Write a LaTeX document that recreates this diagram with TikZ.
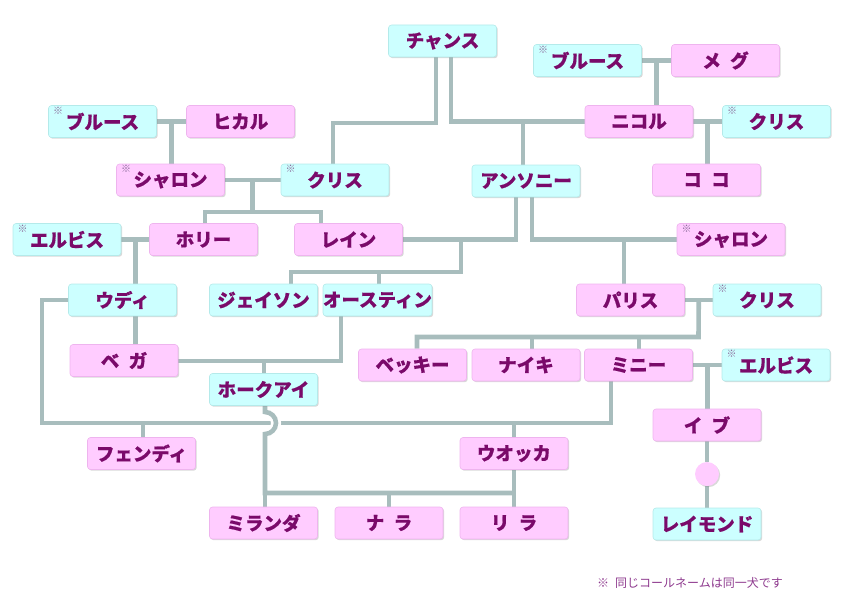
\documentclass[tikz,border=0pt]{standalone}
\usepackage{fontspec}
\newfontfamily\jp{Noto Sans CJK JP}[WordSpace=2.2, BoldFeatures={FakeBold=0.6}]
\usetikzlibrary{shadows,calc}
\definecolor{cy}{HTML}{CCFFFF}
\definecolor{cyb}{HTML}{B4EAEA}
\definecolor{pk}{HTML}{FFCCFF}
\definecolor{pkb}{HTML}{EEB4EE}
\definecolor{txt}{HTML}{7A0A6A}
\definecolor{ln}{HTML}{A8BDBD}
\definecolor{komec}{HTML}{8A6A9A}
\definecolor{footc}{HTML}{8E3A8E}
\pgfdeclarelayer{bg}
\pgfsetlayers{bg,main}
\tikzset{
  box/.style={rounded corners=3pt, minimum width=108pt, minimum height=32pt, inner sep=0pt,
    text=txt, font=\jp\bfseries\fontsize{18.5}{18.5}\selectfont, line width=0.6pt,
    drop shadow={shadow xshift=1.2pt, shadow yshift=-1.2pt, opacity=0.3, fill=black!50}},
  cbox/.style={box, fill=cy, draw=cyb},
  pbox/.style={box, fill=pk, draw=pkb},
  kome/.style={anchor=center, xshift=10pt, yshift=-5.5pt, inner sep=0pt, text=komec,
    font=\jp\fontsize{10}{10}\selectfont},
  note/.style={label={[kome]north west:※}},
  link/.style={draw=ln, line width=4.6pt},
  halo/.style={draw=white, line width=10pt},
  foot/.style={text=footc, font=\jp\fontsize{12}{12}\selectfont, inner sep=0pt}
}
\begin{document}
\begin{tikzpicture}[x=1pt,y=-1pt]
\useasboundingbox (0,0) rectangle (842,615);
% nodes
\node[cbox] (chance) at (442.5,41) {チャンス};
\node[cbox,note] (bruceR) at (587.5,60.5) {ブルース};
\node[pbox] (meg) at (725.5,60.5) {メ グ};
\node[cbox,note] (bruceL) at (102.5,121.5) {ブルース};
\node[pbox] (hikaru) at (240.5,121.5) {ヒカル};
\node[pbox] (nicole) at (639,121.5) {ニコル};
\node[cbox,note] (chrisA) at (776.5,121.5) {クリス};
\node[pbox,note] (sharonL) at (170.5,180) {シャロン};
\node[cbox,note] (chrisB) at (335,180) {クリス};
\node[cbox] (anthony) at (526,181) {アンソニー};
\node[pbox] (coco) at (706.5,180) {コ コ};
\node[cbox,note] (elvisL) at (67,239.5) {エルビス};
\node[pbox] (holly) at (203.5,239.5) {ホリー};
\node[pbox] (rain) at (348.5,239.5) {レイン};
\node[pbox,note] (sharonR) at (731,239.5) {シャロン};
\node[cbox] (woody) at (122.5,300) {ウディ};
\node[cbox] (jason) at (263.5,300) {ジェイソン};
\node[cbox] (austin) at (377.5,300) {オースティン};
\node[pbox] (paris) at (630.5,300) {パリス};
\node[cbox,note] (chrisC) at (767,300) {クリス};
\node[pbox] (vega) at (124,360.5) {ベ ガ};
\node[pbox] (becky) at (412.5,365) {ベッキー};
\node[pbox] (nike) at (526,365) {ナイキ};
\node[pbox] (minnie) at (638.5,365) {ミニー};
\node[cbox,note] (elvisR) at (776,365) {エルビス};
\node[cbox] (hawkeye) at (263.5,389.5) {ホークアイ};
\node[pbox] (eve) at (707,425) {イ ブ};
\node[pbox] (fendi) at (141.5,453.5) {フェンディ};
\node[pbox] (vodka) at (514,453.5) {ウオッカ};
\node[circle, fill=pk, minimum size=24pt, inner sep=0pt,
  drop shadow={shadow xshift=1.2pt, shadow yshift=-1.2pt, opacity=0.3, fill=black!50}] (dot) at (707,474) {};
\node[pbox] (miranda) at (263.5,523) {ミランダ};
\node[pbox] (nara) at (389,523) {ナ ラ};
\node[pbox] (lila) at (514,523) {リ ラ};
\node[cbox] (raymond) at (707,524) {レイモンド};
\node[foot] (footnote) at (690,583) {※ 同じコールネームは同一犬です};
% connectors
\begin{pgfonlayer}{bg}
% Bruce L + Hikaru -> Sharon L
\coordinate (jA) at ($(bruceL.east)!0.5!(hikaru.west)$);
\draw[link] (bruceL.east) -- (hikaru.west);
\draw[link] (jA) -- (jA |- sharonL.north);
% Bruce R + Meg -> Nicole
\coordinate (jB) at ($(bruceR.east)!0.5!(meg.west)$);
\draw[link] (bruceR.east) -- (meg.west);
\draw[link] (jB) -- (jB |- nicole.north);
% Chance -> Chris B
\coordinate (c1) at (333,123);
\draw[link] ([xshift=-6.5pt]chance.south) |- (c1) -- (c1 |- chrisB.north);
% Chance + Nicole -> Anthony
\coordinate (c2) at (523,121.5);
\draw[link] ([xshift=8.5pt]chance.south) |- (nicole.west);
\draw[link] (c2) -- (c2 |- anthony.north);
% Nicole + Chris A -> Coco
\coordinate (jC) at ($(nicole.east)!0.5!(chrisA.west)$);
\draw[link] (nicole.east) -- (chrisA.west);
\draw[link] (jC) -- (jC |- coco.north);
% Sharon L + Chris B -> Holly, Rain
\coordinate (jD) at ($(sharonL.east)!0.5!(chrisB.west)$);
\coordinate (hl) at (205,212);
\coordinate (hr) at (321,212);
\draw[link] (sharonL.east) -- (chrisB.west);
\draw[link] (jD) -- (jD |- hl);
\draw[link] (hl |- holly.north) -- (hl) -- (hr) -- (hr |- rain.north);
% Anthony + Rain -> Jason, Austin
\coordinate (j4) at (461,239.5);
\coordinate (j5) at (291,272);
\coordinate (j6) at (379,272);
\draw[link] ([xshift=-10pt]anthony.south) |- (rain.east);
\draw[link] (j4) |- (j5) -- (j5 |- jason.north);
\draw[link] (j6) -- (j6 |- austin.north);
% Anthony + Sharon R -> Paris
\coordinate (j7) at (624,239.5);
\draw[link] ([xshift=6pt]anthony.south) |- (sharonR.west);
\draw[link] (j7) -- (j7 |- paris.north);
% Elvis L + Holly -> Woody
\coordinate (j8) at ($(elvisL.east)!0.5!(holly.west)$);
\draw[link] (elvisL.east) -- (holly.west);
\draw[link] (j8) -- (j8 |- woody.north);
% Woody + Vega
\draw[link] (j8 |- woody.south) -- (j8 |- vega.north);
% Woody + Minnie -> Fendi, Vodka
\coordinate (w1) at (42,423);
\coordinate (w2) at (611,423);
\coordinate (w3) at (143,423);
\coordinate (w4) at (514,423);
\draw[link] (woody.west) -| (w1) -- (w2) -- (w2 |- minnie.south);
\draw[link] (w3) -- (w3 |- fendi.north);
\draw[link] (w4) -- (w4 |- vodka.north);
% Vega + Austin -> Hawkeye
\coordinate (v1) at (341,316);
\coordinate (v2) at (264,361);
\draw[link] ([yshift=-0.5pt]vega.east) -| (v1);
\draw[link] (v2) -- (v2 |- hawkeye.north);
% Hawkeye + Vodka -> Miranda, Nara, Lila
\coordinate (k0) at (265,412);
\coordinate (k1) at (265,493);
\coordinate (k2) at (389,493);
\coordinate (k3) at (514,493);
\draw[halo] (k0) arc[start angle=-90, end angle=90, radius=11];
\draw[link] (k0 |- hawkeye.south) -- (k0) arc[start angle=-90, end angle=90, radius=11] -- (k1) -- (k3);
\draw[link] (k1) -- (k1 |- miranda.north);
\draw[link] (k2) -- (k2 |- nara.north);
\draw[link] (vodka.south) -- (lila.north);
% Paris + Chris C -> Becky, Nike, Minnie
\coordinate (jP) at ($(paris.east)!0.5!(chrisC.west)$);
\coordinate (p1) at (698.5,337);
\coordinate (p2) at (417,337);
\coordinate (p3) at (532,337);
\coordinate (p4) at (639,337);
\draw[link] (paris.east) -- (chrisC.west);
\draw[link] (jP) -- (p1) -- (p2) -- (p2 |- becky.north);
\draw[link] (p3) -- (p3 |- nike.north);
\draw[link] (p4) -- (p4 |- minnie.north);
% Minnie + Elvis R -> Eve
\coordinate (jM) at ($(minnie.east)!0.5!(elvisR.west)$);
\draw[link] (minnie.east) -- (elvisR.west);
\draw[link] (jM) -- (jM |- eve.north);
% Eve -> dot -> Raymond
\draw[link] (eve.south) -- (dot) -- (raymond.north);
\end{pgfonlayer}
\end{tikzpicture}
\end{document}
